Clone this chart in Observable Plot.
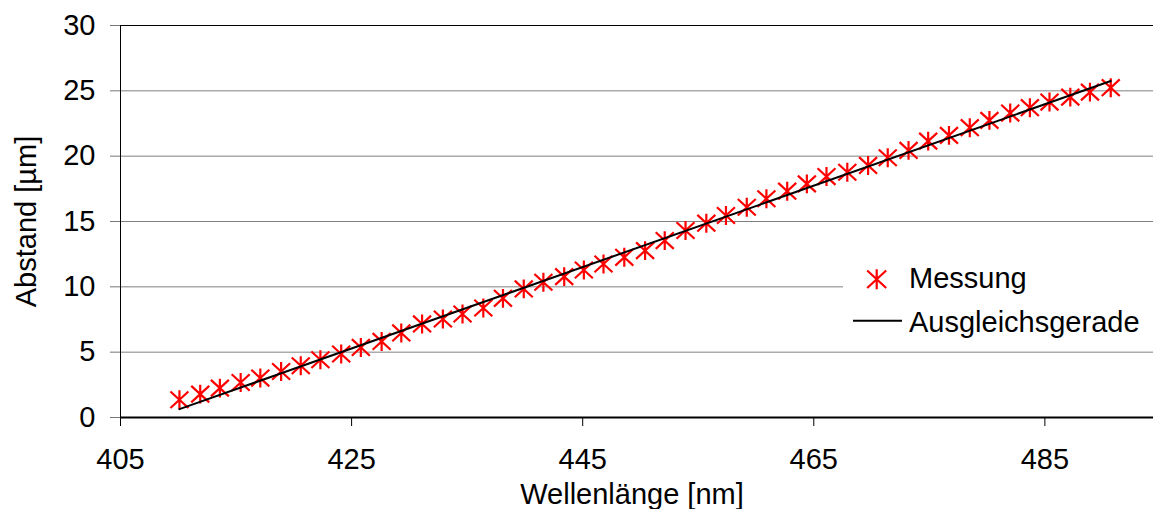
<!DOCTYPE html>
<html><head><meta charset="utf-8">
<script src="https://cdn.jsdelivr.net/npm/d3@7"></script>
<script src="https://cdn.jsdelivr.net/npm/@observablehq/plot@0.6"></script>
<style>body{margin:0;background:#fff} svg{display:block}</style>
</head><body><div id="chart"></div>
<script>
const wavelength = [410.1, 411.9, 413.6, 415.4, 417.1, 418.9, 420.6, 422.3, 424.1, 425.8, 427.6, 429.3, 431.1, 432.9, 434.6, 436.4, 438.1, 439.9, 441.6, 443.4, 445.1, 446.8, 448.6, 450.4, 452.1, 453.9, 455.7, 457.4, 459.2, 460.9, 462.7, 464.4, 466.1, 467.9, 469.7, 471.4, 473.2, 474.9, 476.7, 478.5, 480.2, 482.0, 483.7, 485.4, 487.2, 488.9, 490.7];
const distance = [1.36, 1.79, 2.25, 2.68, 3.02, 3.52, 3.96, 4.42, 4.86, 5.36, 5.82, 6.47, 7.16, 7.54, 7.92, 8.38, 9.12, 9.84, 10.35, 10.78, 11.29, 11.75, 12.26, 12.77, 13.54, 14.31, 14.87, 15.46, 16.09, 16.74, 17.32, 17.88, 18.44, 18.77, 19.29, 19.88, 20.44, 21.15, 21.59, 22.18, 22.74, 23.30, 23.71, 24.14, 24.52, 24.90, 25.24];
const fitWavelength = [410.1, 490.7];
const fitDistance = [0.64, 25.75];
const xTicks = [405, 425, 445, 465, 485];
const yTicks = [0, 5, 10, 15, 20, 25, 30];
const seriesNames = ["Messung", "Ausgleichsgerade"];
const xLabel = "Wellenlänge [nm]";
const yLabel = "Abstand [µm]";

const measurements = wavelength.map((w, i) => ({w, d: distance[i]}));
const fit = fitWavelength.map((w, i) => ({w, d: fitDistance[i]}));

const asterisk = {
  draw(ctx, size) {
    const s = Math.sqrt(size / Math.PI);
    ctx.moveTo(0, -s * 1.05); ctx.lineTo(0, s * 1.05);
    ctx.moveTo(-s, -s * 0.92); ctx.lineTo(s, s * 0.92);
    ctx.moveTo(-s, s * 0.92); ctx.lineTo(s, -s * 0.92);
  }
};

const plot = Plot.plot({
  width: 1153, height: 509,
  marginLeft: 120, marginRight: 0, marginTop: 25, marginBottom: 92,
  style: {fontFamily: "'Liberation Sans', Arial, sans-serif", fontSize: "29px", color: "#000", background: "#fff"},
  x: {domain: [405, 494.4]},
  y: {domain: [0, 30]},
  marks: [
    Plot.ruleY(yTicks.filter(v => v > 0 && v < 30), {stroke: "#808080", strokeWidth: 1}),
    Plot.ruleY([30], {stroke: "#000", strokeWidth: 1}),
    Plot.ruleX([405], {stroke: "#000", strokeWidth: 1}),
    Plot.axisY({ticks: yTicks, tickSize: 10, tickPadding: 15, label: null, stroke: "#777"}),
    Plot.axisX({ticks: xTicks, tickSize: 9, tickPadding: 22, label: null, tickFormat: d => String(d)}),
    Plot.dot(measurements, {x: "w", y: "d", symbol: asterisk, r: 9, stroke: "#ff0000", strokeWidth: 2.2, fill: "none"}),
    Plot.line(fit, {x: "w", y: "d", stroke: "#000", strokeWidth: 2}),
    Plot.ruleY([0], {stroke: "#000", strokeWidth: 2}),
    Plot.text([xLabel], {text: d => d, frameAnchor: "bottom", lineAnchor: "middle", textAnchor: "middle", dy: 77, dx: -5, fill: "#000"}),
    Plot.text([yLabel], {text: d => d, frameAnchor: "left", lineAnchor: "middle", textAnchor: "middle", rotate: -90, dx: -94, fill: "#000"})
  ]
});

// legend
const svg = d3.select(plot);
const lg = svg.append("g")
  .attr("font-family", "'Liberation Sans', Arial, sans-serif")
  .attr("font-size", 29)
  .attr("text-anchor", "start");
lg.append("rect").attr("x", 843).attr("y", 252).attr("width", 310).attr("height", 94).attr("fill", "#fff");
const p = d3.path();
asterisk.draw(p, Math.PI * 9.5 * 9.5);
lg.append("path").attr("d", p.toString()).attr("transform", "translate(876.7,279.3)")
  .attr("stroke", "#ff0000").attr("stroke-width", 2.2).attr("fill", "none");
lg.append("text").attr("x", 909).attr("y", 287.5).attr("fill", "#000").style("text-anchor", "start").text(seriesNames[0]);
lg.append("line").attr("x1", 853).attr("x2", 902).attr("y1", 320.7).attr("y2", 320.7)
  .attr("stroke", "#000").attr("stroke-width", 2);
lg.append("text").attr("x", 909).attr("y", 331.7).attr("fill", "#000").style("text-anchor", "start").text(seriesNames[1]);

document.getElementById("chart").appendChild(plot);
</script>
</body></html>
